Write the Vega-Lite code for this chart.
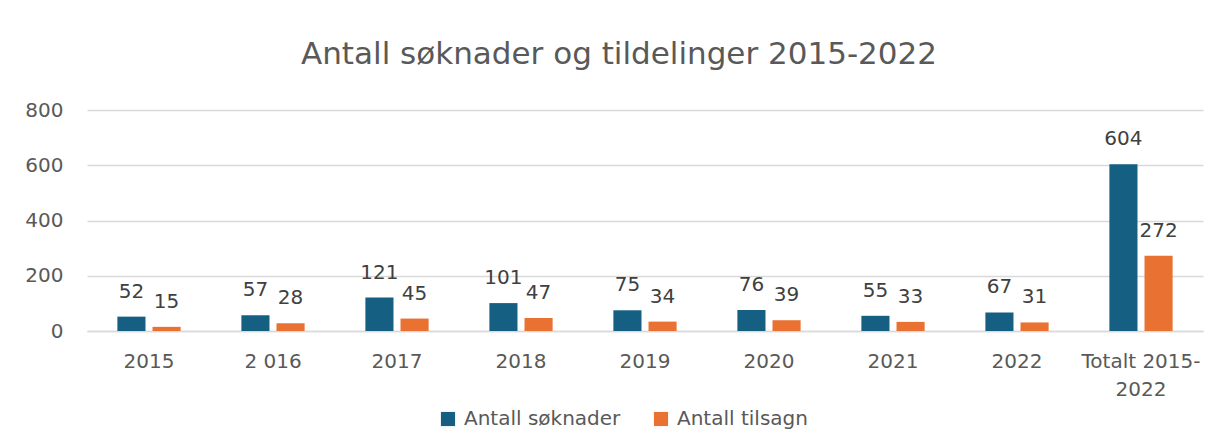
{
  "$schema": "https://vega.github.io/schema/vega-lite/v6.json",
  "autosize": "none",
  "width": 1116,
  "height": 221,
  "padding": {"left": 87, "top": 110, "right": 16, "bottom": 117},
  "background": "white",
  "title": {
    "text": "Antall søknader og tildelinger 2015-2022",
    "anchor": "middle",
    "dx": -26,
    "offset": 29,
    "fontSize": 31,
    "font": "DejaVu Sans",
    "fontWeight": "normal",
    "color": "#595959"
  },
  "data": {
    "values": [
      {"kategori": "2015", "serie": "Antall søknader", "antall": 52},
      {"kategori": "2015", "serie": "Antall tilsagn", "antall": 15},
      {"kategori": "2 016", "serie": "Antall søknader", "antall": 57},
      {"kategori": "2 016", "serie": "Antall tilsagn", "antall": 28},
      {"kategori": "2017", "serie": "Antall søknader", "antall": 121},
      {"kategori": "2017", "serie": "Antall tilsagn", "antall": 45},
      {"kategori": "2018", "serie": "Antall søknader", "antall": 101},
      {"kategori": "2018", "serie": "Antall tilsagn", "antall": 47},
      {"kategori": "2019", "serie": "Antall søknader", "antall": 75},
      {"kategori": "2019", "serie": "Antall tilsagn", "antall": 34},
      {"kategori": "2020", "serie": "Antall søknader", "antall": 76},
      {"kategori": "2020", "serie": "Antall tilsagn", "antall": 39},
      {"kategori": "2021", "serie": "Antall søknader", "antall": 55},
      {"kategori": "2021", "serie": "Antall tilsagn", "antall": 33},
      {"kategori": "2022", "serie": "Antall søknader", "antall": 67},
      {"kategori": "2022", "serie": "Antall tilsagn", "antall": 31},
      {"kategori": "Totalt 2015-2022", "serie": "Antall søknader", "antall": 604},
      {"kategori": "Totalt 2015-2022", "serie": "Antall tilsagn", "antall": 272}
    ]
  },
  "encoding": {
    "x": {
      "field": "kategori",
      "type": "nominal",
      "sort": null,
      "scale": {"paddingInner": 0.49, "paddingOuter": 0.245},
      "axis": {
        "title": null,
        "labelAngle": 0,
        "ticks": false,
        "domain": true,
        "domainColor": "#d9d9d9",
        "domainWidth": 1.5,
        "labelPadding": 20,
        "labelFontSize": 20,
        "labelFont": "DejaVu Sans",
        "labelColor": "#595959",
        "labelLineHeight": 28,
        "labelExpr": "datum.label == 'Totalt 2015-2022' ? ['Totalt 2015-', '2022'] : datum.label"
      }
    },
    "xOffset": {
      "field": "serie",
      "type": "nominal",
      "scale": {"paddingInner": 0.2, "paddingOuter": 0}
    },
    "y": {
      "field": "antall",
      "type": "quantitative",
      "scale": {"domain": [0, 800]},
      "axis": {
        "title": null,
        "values": [0, 200, 400, 600, 800],
        "ticks": false,
        "domain": false,
        "grid": true,
        "gridColor": "#d9d9d9",
        "gridWidth": 1.5,
        "labelPadding": 24,
        "labelFontSize": 20,
        "labelFont": "DejaVu Sans",
        "labelColor": "#595959"
      }
    }
  },
  "layer": [
    {
      "mark": {"type": "bar"},
      "encoding": {
        "color": {
          "field": "serie",
          "type": "nominal",
          "scale": {"domain": ["Antall søknader", "Antall tilsagn"], "range": ["#156082", "#E97132"]},
          "legend": {
            "title": null,
            "orient": "none",
            "direction": "horizontal",
            "legendX": 351,
            "legendY": 299,
            "symbolType": "square",
            "symbolSize": 200,
            "symbolStrokeWidth": 0,
            "labelFontSize": 20,
            "labelLimit": 400,
            "labelFont": "DejaVu Sans",
            "labelColor": "#595959",
            "labelOffset": 6,
            "columnPadding": 30
          }
        }
      }
    },
    {
      "mark": {
        "type": "text",
        "baseline": "alphabetic",
        "dy": -19,
        "fontSize": 20,
        "font": "DejaVu Sans",
        "color": "#404040"
      },
      "encoding": {
        "text": {"field": "antall", "type": "quantitative"}
      }
    }
  ],
  "config": {
    "view": {"stroke": null}
  }
}
